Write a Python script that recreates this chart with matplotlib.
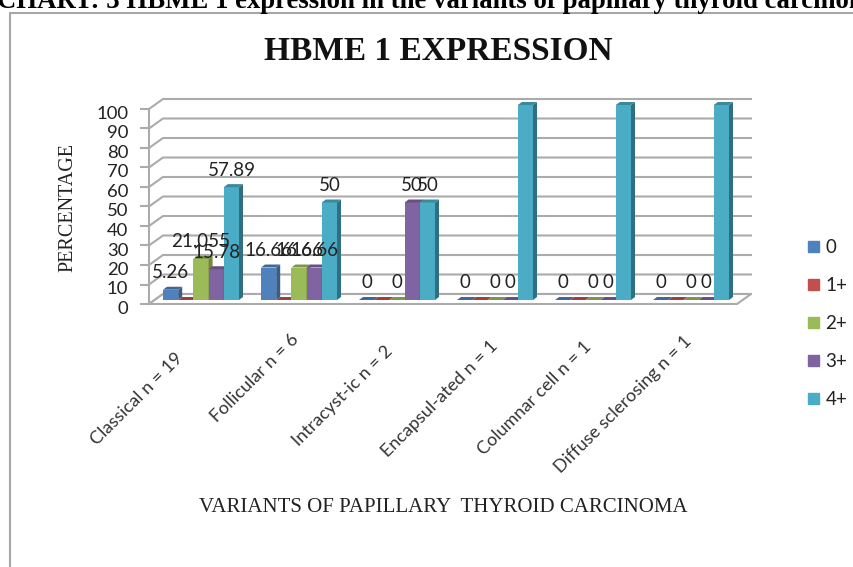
# HBME 1 expression in the variants of papillary thyroid carcinoma
import matplotlib
matplotlib.use("Agg")
import matplotlib.pyplot as plt
from matplotlib.transforms import Affine2D

plt.rcParams["font.family"] = "Lato"

W, H = 854, 567

# data
categories = ["Classical n = 19", "Follicular n = 6", "Intracyst-ic n = 2",
              "Encapsul-ated n = 1", "Columnar cell n = 1",
              "Diffuse sclerosing n = 1"]
series_names = ["0", "1+", "2+", "3+", "4+"]
score_0 = [5.26, 16.66, 0, 0, 0, 0]
score_1 = [0, 0, 0, 0, 0, 0]
score_2 = [21.055, 16.66, 0, 0, 0, 0]
score_3 = [15.78, 16.66, 50, 0, 0, 0]
score_4 = [57.89, 50, 50, 100, 100, 100]
y_ticks = list(range(0, 101, 10))

# style
front = ["#4F81BD", "#C0504D", "#9BBB59", "#8064A2", "#4BACC6"]
side = ["#385D8A", "#8C3836", "#71893F", "#5C4776", "#2F6F80"]
top = ["#3F6797", "#9A403E", "#7C9647", "#664F82", "#3A8A9E"]
grid_col = "#ABABAB"
text_col = "#222222"

fig = plt.figure(figsize=(W / 100, H / 100), dpi=100)
ax = fig.add_axes([149 / W, 1 - 304 / H, 588 / W, 195 / H])
ax.set_xlim(-0.5, 5.5)
ax.set_ylim(0, 100)
for s in ax.spines.values():
    s.set_visible(False)

# pixel sizes in data units
px_x = 6 / 588
px_y = 100 / 195
wall_dx, wall_dy = 14 * px_x, 10 * px_y
bar_dx, bar_dy = 4 * px_x, 3 * px_y
bar_w = 15.2 * px_x
bar_shift = 3 * px_x
base = 4 * px_y

# back wall and floor
for v in y_ticks:
    ax.plot([-0.5, -0.5 + wall_dx, 5.5 + wall_dx], [v, v + wall_dy, v + wall_dy],
            color=grid_col, lw=1.5, clip_on=False, zorder=1)
ax.plot([-0.5, -0.5], [0, 100], color=grid_col, lw=1.5, clip_on=False, zorder=1)
ax.fill([-0.5, 5.5, 5.5 + wall_dx, -0.5 + wall_dx], [0, 0, wall_dy, wall_dy],
        facecolor="white", edgecolor=grid_col, lw=1.5, clip_on=False, zorder=2)

# bars, drawn left to right so that each covers the side of the one before
all_series = [score_0, score_1, score_2, score_3, score_4]
for s, values in enumerate(all_series):
    for i, v in enumerate(values):
        x0 = i + bar_shift + (s - 2.5) * bar_w
        x1 = x0 + bar_w
        y1 = v + base
        z = 3 + i * 5 + s
        ax.bar(x0, v, bar_w, bottom=base, align="edge", color=front[s],
               clip_on=False, zorder=z)
        ax.fill([x1, x1 + bar_dx, x1 + bar_dx, x1],
                [base, base + bar_dy, y1 + bar_dy, y1],
                color=side[s], lw=0, clip_on=False, zorder=z)
        ax.fill([x0, x1, x1 + bar_dx, x0 + bar_dx],
                [y1, y1, y1 + bar_dy, y1 + bar_dy],
                color=top[s], lw=0, clip_on=False, zorder=z)
        # the 1+ series carries no value labels
        if s != 1:
            ax.annotate(f"{v:g}", (x0 + bar_w / 2, y1), xytext=(0, 17),
                        textcoords="offset pixels", ha="center", va="center",
                        fontsize=13.5, color=text_col, zorder=60)

# axes
ax.set_yticks(y_ticks)
ax.tick_params(axis="y", length=6.5, width=1.5, color=grid_col, pad=8.5,
               labelsize=13.3, labelcolor=text_col)
for lab in ax.get_yticklabels():
    lab.set_transform(lab.get_transform() + Affine2D().translate(0, -3.5))
ax.set_xticks([])

# category labels, each with its own nudge as in the source
nudges = [(-18, -52), (0, -33), (-4, -45), (3, -40), (-1, -40), (1, -35)]
for i, name in enumerate(categories):
    ax.annotate(name, (i, 0), xytext=nudges[i], textcoords="offset pixels",
                rotation=45, rotation_mode="anchor", ha="right", va="center",
                fontsize=13, color="#333333")

# legend
leg = ax.legend(
    [plt.Rectangle((0, 0), 1, 1, color=c) for c in front], series_names,
    loc="center left", bbox_to_anchor=(791 / W, 1 - 323.5 / H),
    bbox_transform=fig.transFigure, frameon=False, fontsize=13.5,
    handlelength=0.58, handleheight=0.58, handletextpad=0.36, labelspacing=1.12,
    labelcolor=text_col,
)

# titles
fig.text(438 / W, 1 - 51.5 / H, "HBME 1 EXPRESSION", family="Liberation Serif",
         weight="bold", fontsize=24, ha="center", va="center", color="#111111")
fig.text(-3 / W, 1 - 8 / H,
         "CHART: 3 HBME 1 expression in the variants of papillary thyroid carcinoma",
         family="Liberation Serif", weight="bold", fontsize=19.3, ha="left",
         va="baseline", color="black")
fig.text(68 / W, 1 - 208 / H, "PERCENTAGE", family="Liberation Serif",
         fontsize=14.5, rotation=90, ha="center", va="center", color=text_col)
fig.text(443 / W, 1 - 508 / H, "VARIANTS OF PAPILLARY  THYROID CARCINOMA",
         family="Liberation Serif", fontsize=15, ha="center", va="center",
         color=text_col)

# outer frame of the pasted picture
fig.add_artist(plt.Line2D([10.5 / W, 10.5 / W, 1], [0, 1 - 13 / H, 1 - 13 / H],
                          color="#A6A6A6", lw=1.5))

fig.savefig("out.png", dpi=100)
